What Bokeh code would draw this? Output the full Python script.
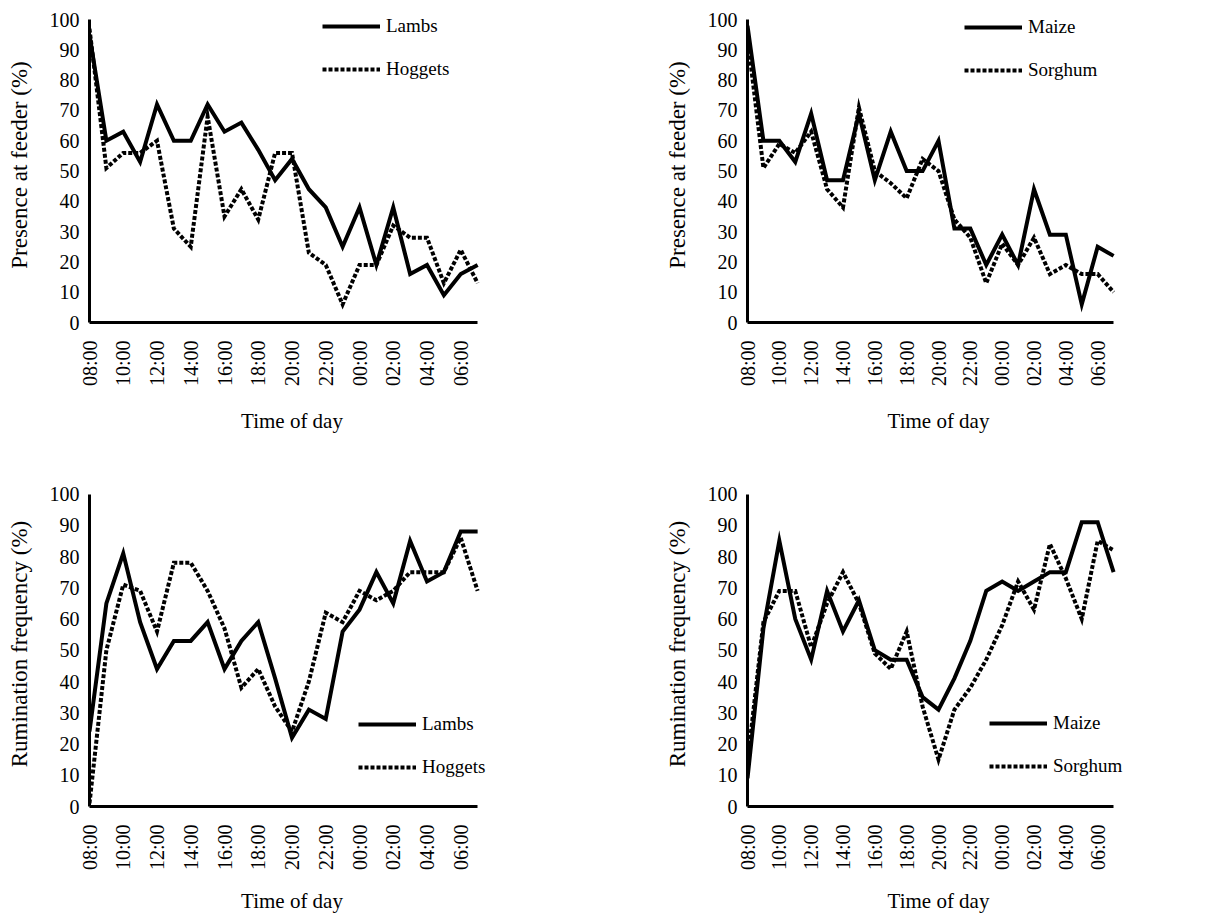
import math
from bokeh.plotting import figure
from bokeh.layouts import column, row
from bokeh.models import Range1d, FixedTicker, Legend, LegendItem
from bokeh.embed import file_html
from bokeh.resources import INLINE

hours = ["08:00", "09:00", "10:00", "11:00", "12:00", "13:00", "14:00", "15:00",
         "16:00", "17:00", "18:00", "19:00", "20:00", "21:00", "22:00", "23:00",
         "00:00", "01:00", "02:00", "03:00", "04:00", "05:00", "06:00", "07:00"]

# Presence at feeder (%) by age
lambs_feeder = [95, 60, 63, 53, 72, 60, 60, 72, 63, 66, 57, 47, 54, 44, 38, 25,
                38, 19, 38, 16, 19, 9, 16, 19]
hoggets_feeder = [97, 51, 56, 56, 60, 31, 25, 68, 35, 44, 34, 56, 56, 23, 19, 6,
                  19, 19, 32, 28, 28, 13, 24, 13]
# Presence at feeder (%) by grain
maize_feeder = [98, 60, 60, 53, 69, 47, 47, 69, 47, 63, 50, 50, 60, 31, 31, 19,
                29, 19, 44, 29, 29, 6, 25, 22]
sorghum_feeder = [94, 51, 59, 56, 63, 44, 38, 71, 50, 46, 41, 54, 50, 34, 28, 13,
                  26, 19, 28, 16, 19, 16, 16, 10]
# Rumination frequency (%) by age
lambs_rum = [24, 65, 81, 59, 44, 53, 53, 59, 44, 53, 59, 41, 22, 31, 28, 56,
             63, 75, 65, 85, 72, 75, 88, 88]
hoggets_rum = [1, 50, 71, 69, 56, 78, 78, 69, 57, 38, 44, 32, 24, 40, 62, 59,
               69, 66, 69, 75, 75, 75, 86, 69]
# Rumination frequency (%) by grain
maize_rum = [9, 57, 85, 60, 47, 69, 56, 66, 50, 47, 47, 35, 31, 41, 53, 69,
             72, 69, 72, 75, 75, 91, 91, 75]
sorghum_rum = [14, 59, 69, 69, 51, 65, 75, 65, 49, 44, 56, 32, 15, 31, 38, 47,
               58, 72, 63, 84, 73, 60, 85, 82]

y_ticks = [0, 10, 20, 30, 40, 50, 60, 70, 80, 90, 100]
x_ticks = list(range(0, 24, 2))

FONT = "Liberation Serif"
x = list(range(len(hours)))


def panel(a, b, name_a, name_b, ylabel, width, height, btop, bbottom, bright,
          leg_loc, title_standoff):
    p = figure(width=width, height=height, output_backend="svg",
               toolbar_location=None, x_range=Range1d(0, 24),
               y_range=Range1d(0, 104), min_border_left=89,
               min_border_top=btop, min_border_bottom=bbottom,
               min_border_right=bright)
    p.outline_line_color = None
    p.grid.visible = False
    p.background_fill_color = "white"

    r1 = p.line(x, a, line_color="black", line_width=4, line_join="miter")
    r2 = p.line(x, b, line_color="black", line_width=4, line_dash="4 2",
                line_join="miter")

    p.xaxis.ticker = FixedTicker(ticks=x_ticks)
    p.xaxis.bounds = (0, 23)
    p.xaxis.major_label_overrides = {i: hours[i] for i in x_ticks}
    p.xaxis.major_label_orientation = math.pi / 2
    p.yaxis.ticker = FixedTicker(ticks=y_ticks)
    p.yaxis.bounds = (0, 100)
    for ax in (p.xaxis[0], p.yaxis[0]):
        ax.axis_line_color = "black"
        ax.axis_line_width = 3
        ax.major_tick_line_color = None
        ax.minor_tick_line_color = None
        ax.major_label_text_font = FONT
        ax.major_label_text_font_size = "20px"
        ax.major_label_text_color = "black"
        ax.axis_label_text_font = FONT
        ax.axis_label_text_font_style = "normal"
        ax.axis_label_text_color = "black"
    p.xaxis.major_label_standoff = 12
    p.yaxis.major_label_standoff = 4
    p.xaxis.axis_label = "Time of day"
    p.xaxis.axis_label_text_font_size = "21px"
    p.xaxis.axis_label_standoff = title_standoff
    p.yaxis.axis_label = ylabel
    p.yaxis.axis_label_text_font_size = "23px"
    p.yaxis.axis_label_standoff = 15

    legend = Legend(items=[LegendItem(label=name_a, renderers=[r1]),
                           LegendItem(label=name_b, renderers=[r2])],
                    location=leg_loc, orientation="vertical")
    legend.glyph_width = 58
    legend.glyph_height = 20
    legend.label_height = 20
    legend.spacing = 21
    legend.padding = 0
    legend.margin = 0
    legend.label_standoff = 6
    legend.border_line_color = None
    legend.background_fill_alpha = 0
    legend.label_text_font = FONT
    legend.label_text_font_size = "19px"
    legend.label_text_color = "black"
    p.add_layout(legend, "center")
    return p


p1 = panel(lambs_feeder, hoggets_feeder, "Lambs", "Hoggets",
           "Presence at feeder (%)", 658, 470, 7, 147, 164, (233, 242), 20)
p2 = panel(maize_feeder, sorghum_feeder, "Maize", "Sorghum",
           "Presence at feeder (%)", 550, 470, 6, 148, 79, (217, 241), 20)
p3 = panel(lambs_rum, hoggets_rum, "Lambs", "Hoggets",
           "Rumination frequency (%)", 658, 448, 11, 112, 164, (269, 28), 16)
p4 = panel(maize_rum, sorghum_rum, "Maize", "Sorghum",
           "Rumination frequency (%)", 550, 448, 11, 112, 79, (242, 29), 16)

layout = column(row(p1, p2), row(p3, p4))
open("out.html", "w").write(file_html(layout, INLINE))
